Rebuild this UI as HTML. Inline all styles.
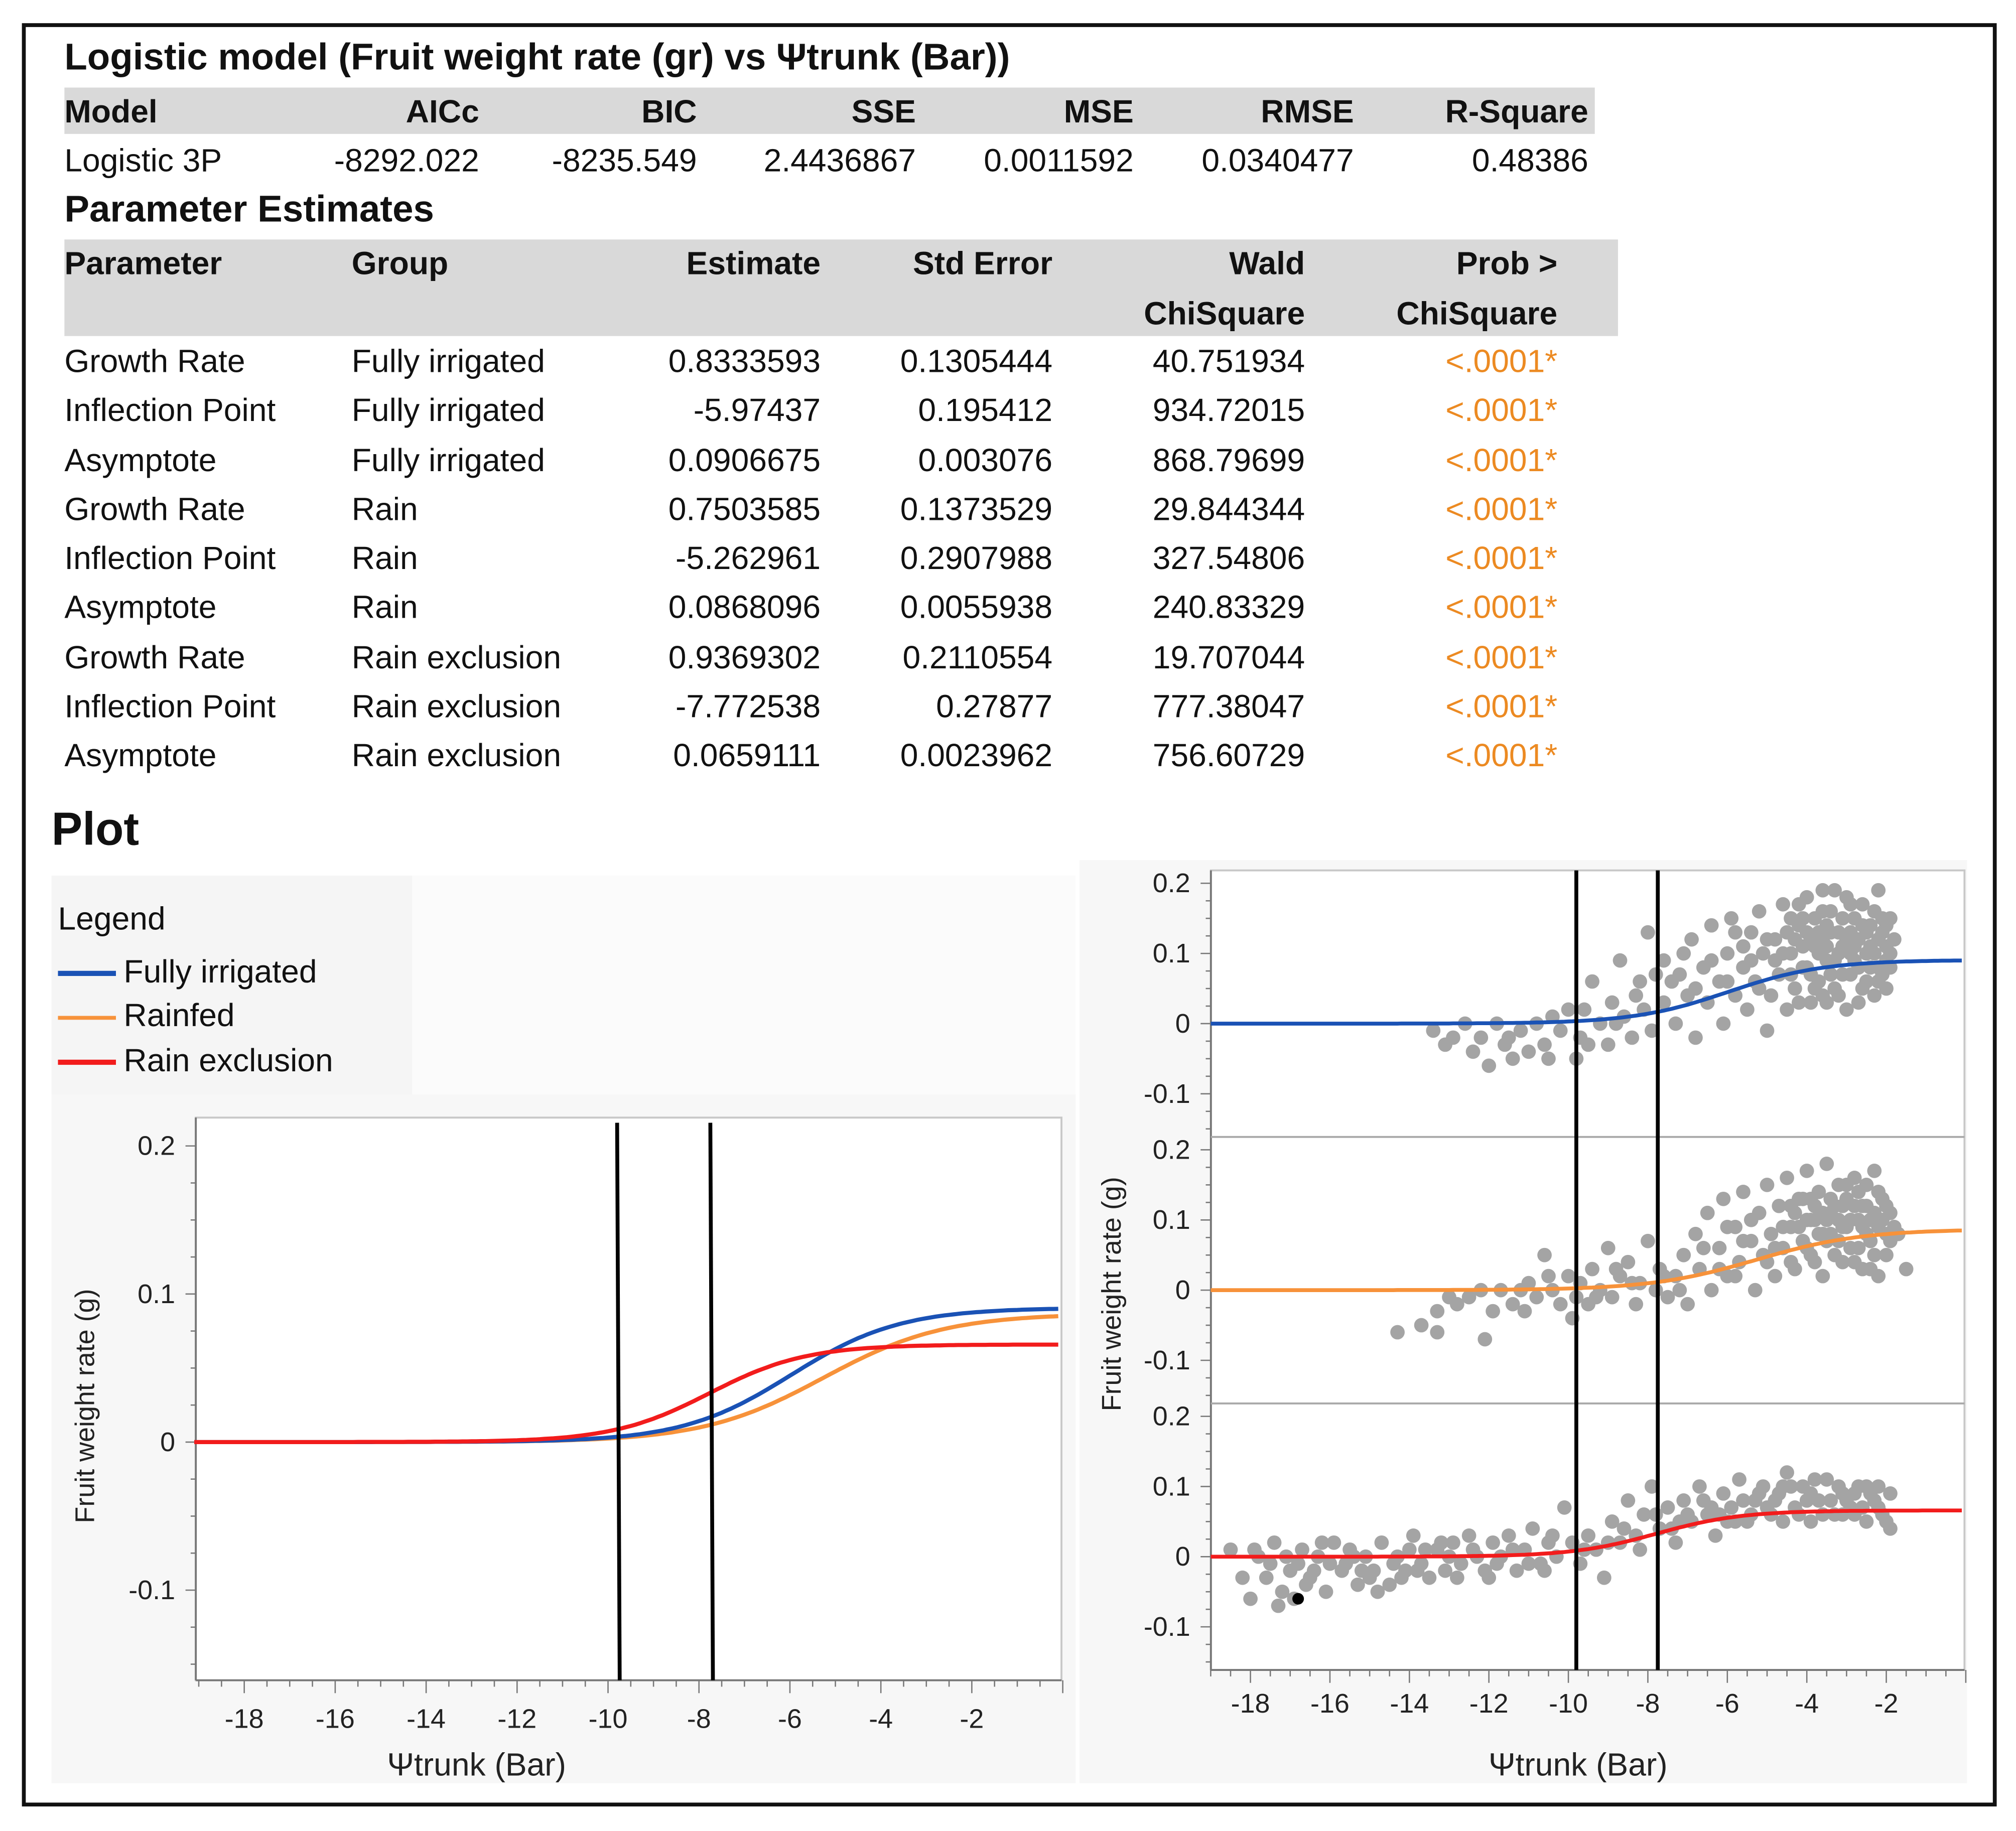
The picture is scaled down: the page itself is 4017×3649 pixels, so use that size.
<!DOCTYPE html>
<html><head><meta charset="utf-8">
<style>
html,body{margin:0;padding:0;background:#fff;}
body{width:4017px;height:3649px;overflow:hidden;}
#root{position:absolute;left:0;top:0;width:1565px;height:1422px;transform:scale(2.5668,2.566);transform-origin:0 0;font-family:"Liberation Sans",sans-serif;color:#111;}
.a{position:absolute;white-space:nowrap;line-height:1;}
.b{font-weight:bold;}
.h{font-size:25px;}
.t{font-size:25px;}
.o{color:#ec8a22;}
</style></head><body>
<div id="root">
<div class="a" style="left:17px;top:18px;width:1527px;height:1379px;border:3px solid #111;"></div>
<div class="a b" style="left:50px;top:31px;font-size:29px;">Logistic model (Fruit weight rate (gr) vs Ψtrunk (Bar))</div>
<div class="a" style="left:50px;top:68px;width:1188px;height:36px;background:#d9d9d9;"></div>
<div class="a b" style="left:50px;top:149px;font-size:29px;">Parameter Estimates</div>
<div class="a" style="left:50px;top:186px;width:1206px;height:75px;background:#d9d9d9;"></div>
<div class="a b" style="left:40px;top:626px;font-size:36px;">Plot</div>
<div class="a" style="left:40px;top:680px;width:280px;height:170px;background:#f5f5f5;"></div>
<div class="a" style="left:320px;top:680px;width:515px;height:170px;background:#fbfbfb;"></div>
<div class="a" style="left:40px;top:850px;width:795px;height:535px;background:#f7f7f7;"></div>
<div class="a" style="left:838px;top:668px;width:689px;height:717px;background:#f7f7f7;"></div>
<div class="a" style="left:45px;top:702px;font-size:25px;">Legend</div>
<div class="a" style="left:45px;top:743px;font-size:25px;"><span style="display:inline-block;width:45px;height:4px;background:#1a52b5;vertical-align:middle;margin-right:6px;"></span>Fully irrigated</div>
<div class="a" style="left:45px;top:777px;font-size:25px;"><span style="display:inline-block;width:45px;height:3px;background:#f7923a;vertical-align:middle;margin-right:6px;"></span>Rainfed</div>
<div class="a" style="left:45px;top:812px;font-size:25px;"><span style="display:inline-block;width:45px;height:4px;background:#f21c1c;vertical-align:middle;margin-right:6px;"></span>Rain exclusion</div>
<svg id="chart" class="a" style="left:0;top:0;" width="1565" height="1422" xmlns="http://www.w3.org/2000/svg"></svg>
</div>
<script>
const fitHeaders=['Model','AICc','BIC','SSE','MSE','RMSE','R-Square'];
const fitValues=['Logistic 3P','-8292.022','-8235.549','2.4436867','0.0011592','0.0340477','0.48386'];
const fitRight=[null,372,541,711,880,1051,1233];
const paramNames=['Growth Rate','Inflection Point','Asymptote','Growth Rate','Inflection Point','Asymptote','Growth Rate','Inflection Point','Asymptote'];
const paramGroups=['Fully irrigated','Fully irrigated','Fully irrigated','Rain','Rain','Rain','Rain exclusion','Rain exclusion','Rain exclusion'];
const estimates=['0.8333593','-5.97437','0.0906675','0.7503585','-5.262961','0.0868096','0.9369302','-7.772538','0.0659111'];
const stdErrors=['0.1305444','0.195412','0.003076','0.1373529','0.2907988','0.0055938','0.2110554','0.27877','0.0023962'];
const waldChi=['40.751934','934.72015','868.79699','29.844344','327.54806','240.83329','19.707044','777.38047','756.60729'];
const probChi=['<.0001*','<.0001*','<.0001*','<.0001*','<.0001*','<.0001*','<.0001*','<.0001*','<.0001*'];

function cell(parent,txt,x,y,right,cls,name){
  const d=document.createElement('div');
  
  
  d.className='a '+cls;d.textContent=txt;
  if(right){d.style.right=(1565-x)+'px';}else{d.style.left=x+'px';}
  d.style.top=(y-13)+'px';parent.appendChild(d);
}
const root=document.getElementById('root');
fitHeaders.forEach((h,i)=>cell(root,h,i?fitRight[i]:50,88,!!i,'b h','fit-header-'+h.toLowerCase()));
fitValues.forEach((v,i)=>cell(root,v,i?fitRight[i]:50,126,!!i,'t','fit-value-'+i));
cell(root,'Parameter',50,206,false,'b h','param-header-parameter');
cell(root,'Group',273,206,false,'b h','param-header-group');
cell(root,'Estimate',637,206,true,'b h','param-header-estimate');
cell(root,'Std Error',817,206,true,'b h','param-header-std-error');
cell(root,'Wald',1013,206,true,'b h','param-header-wald');
cell(root,'ChiSquare',1013,245,true,'b h','param-header-wald-chisquare');
cell(root,'Prob >',1209,206,true,'b h','param-header-prob');
cell(root,'ChiSquare',1209,245,true,'b h','param-header-prob-chisquare');
paramNames.forEach((p,i)=>{
  const y=282+i*38.25;
  cell(root,p,50,y,false,'t','param-name-'+i);
  cell(root,paramGroups[i],273,y,false,'t','param-group-'+i);
  cell(root,estimates[i],637,y,true,'t','param-estimate-'+i);
  cell(root,stdErrors[i],817,y,true,'t','param-std-error-'+i);
  cell(root,waldChi[i],1013,y,true,'t','param-wald-'+i);
  cell(root,probChi[i],1209,y,true,'t o','param-prob-'+i);
});
</script>
<script>
// chart data
const xTicks=[-18,-16,-14,-12,-10,-8,-6,-4,-2];
const yTicks=[0.2,0.1,0,-0.1];
const yTickLabels=['0.2','0.1','0','-0.1'];
const seriesNames=['Fully irrigated','Rainfed','Rain exclusion'];
const growthRate=[0.8333593,0.7503585,0.9369302];
const inflectionPoint=[-5.97437,-5.262961,-7.772538];
const asymptote=[0.0906675,0.0868096,0.0659111];
const refLines=[-9.8,-7.75];
const scatterFully=[[-13.4,-0.01],[-13.1,-0.03],[-12.9,-0.02],[-12.6,0.0],[-12.4,-0.04],[-12.2,-0.02],[-12.0,-0.06],[-11.8,0.0],[-11.6,-0.03],[-11.4,-0.05],[-11.2,-0.01],[-11.0,-0.04],[-10.8,0.0],[-10.6,-0.03],[-10.4,0.01],[-10.2,-0.01],[-10.0,0.02],[-9.8,-0.05],[-9.7,-0.02],[-9.6,0.02],[-9.4,0.06],[-9.2,0.0],[-9.0,-0.03],[-8.9,0.03],[-8.7,0.09],[-8.6,0.01],[-8.4,-0.02],[-8.3,0.04],[-8.1,0.02],[-8.0,0.13],[-7.9,-0.01],[-7.8,0.07],[-7.6,0.03],[-7.4,0.06],[-7.3,0.0],[-7.1,0.1],[-7.0,0.04],[-6.9,0.12],[-6.8,-0.02],[-6.6,0.08],[-6.5,0.03],[-6.4,0.14],[-6.2,0.06],[-6.1,0.0],[-6.0,0.1],[-5.9,0.15],[-5.8,0.04],[-5.6,0.08],[-5.5,0.02],[-5.4,0.13],[-5.3,0.06],[-5.2,0.16],[-5.1,0.1],[-5.0,-0.01],[-4.9,0.04],[-4.8,0.12],[-4.7,0.07],[-4.6,0.17],[-4.5,0.02],[-4.4,0.1],[-4.3,0.05],[-4.2,0.14],[-4.1,0.08],[-4.0,0.18],[-3.9,0.03],[-3.8,0.11],[-3.7,0.06],[-3.6,0.16],[-3.5,0.09],[-3.4,0.13],[-3.3,0.19],[-3.2,0.04],[-3.1,0.07],[-3.0,0.12],[-2.9,0.17],[-2.8,0.09],[-2.7,0.03],[-2.6,0.14],[-2.5,0.06],[-2.4,0.11],[-2.3,0.16],[-2.2,0.08],[-2.1,0.13],[-2.0,0.05],[-1.9,0.1],[-4.4,0.15],[-4.2,0.03],[-4.0,0.08],[-3.8,0.15],[-3.6,0.04],[-3.4,0.07],[-3.2,0.1],[-3.0,0.02],[-2.8,0.15],[-2.6,0.05],[-2.4,0.08],[-2.2,0.12],[-2.0,0.09],[-3.9,0.12],[-3.5,0.11],[-3.1,0.15],[-2.7,0.12],[-2.3,0.04],[-2.1,0.15],[-4.5,0.13],[-4.1,0.11],[-3.7,0.13],[-3.3,0.09],[-2.9,0.07],[-2.5,0.1],[-1.8,0.12],[-2.0,0.14],[-3.0,0.18],[-3.6,0.19],[-2.2,0.19],[-4.3,0.12],[-4.1,0.15],[-3.9,0.07],[-3.7,0.1],[-3.5,0.14],[-3.3,0.05],[-3.1,0.11],[-2.9,0.13],[-2.7,0.08],[-2.5,0.13],[-2.3,0.1],[-2.1,0.07],[-1.9,0.15],[-2.0,0.11],[-2.4,0.14],[-2.8,0.11],[-3.2,0.13],[-3.6,0.12],[-4.0,0.13],[-4.4,0.07],[-4.8,0.09],[-5.2,0.05],[-5.6,0.11],[-6.0,0.06],[-6.4,0.09],[-6.8,0.05],[-7.2,0.07],[-7.6,0.09],[-8.2,0.06],[-8.8,0.0],[-9.5,-0.03],[-10.5,-0.05],[-11.5,-0.02],[-2.6,0.17],[-3.4,0.16],[-4.2,0.17],[-2.9,0.1],[-3.8,0.05],[-2.2,0.06],[-1.9,0.08],[-3.5,0.03],[-4.6,0.1],[-5.0,0.12],[-5.4,0.09],[-5.8,0.13]];
const scatterRain=[[-14.3,-0.06],[-13.7,-0.05],[-13.3,-0.06],[-13.3,-0.03],[-13.0,-0.01],[-12.8,-0.02],[-12.5,-0.01],[-12.2,0.0],[-12.1,-0.07],[-11.9,-0.03],[-11.7,0.0],[-11.4,-0.02],[-11.2,0.0],[-11.0,0.01],[-10.8,-0.01],[-10.6,0.05],[-10.4,0.0],[-10.2,-0.02],[-10.0,0.02],[-9.9,-0.04],[-9.7,0.01],[-9.5,-0.02],[-9.4,0.03],[-9.2,0.0],[-9.0,0.06],[-8.9,-0.01],[-8.7,0.02],[-8.5,0.04],[-8.3,-0.02],[-8.2,0.01],[-8.0,0.07],[-7.8,0.0],[-7.7,0.03],[-7.5,-0.01],[-7.3,0.02],[-7.1,0.05],[-7.0,-0.02],[-6.8,0.08],[-6.7,0.03],[-6.5,0.11],[-6.4,0.0],[-6.2,0.06],[-6.1,0.13],[-6.0,0.02],[-5.8,0.09],[-5.7,0.04],[-5.6,0.14],[-5.4,0.07],[-5.3,0.0],[-5.2,0.11],[-5.1,0.05],[-5.0,0.15],[-4.9,0.08],[-4.8,0.02],[-4.7,0.12],[-4.6,0.06],[-4.5,0.16],[-4.4,0.09],[-4.3,0.03],[-4.2,0.13],[-4.1,0.07],[-4.0,0.17],[-3.9,0.1],[-3.8,0.04],[-3.7,0.14],[-3.6,0.08],[-3.5,0.18],[-3.4,0.11],[-3.3,0.05],[-3.2,0.15],[-3.1,0.09],[-3.0,0.13],[-2.9,0.06],[-2.8,0.16],[-2.7,0.1],[-2.6,0.03],[-2.5,0.12],[-2.4,0.07],[-2.3,0.17],[-2.2,0.09],[-2.1,0.13],[-2.0,0.05],[-1.9,0.11],[-1.7,0.08],[-1.5,0.03],[-4.4,0.04],[-4.0,0.06],[-3.6,0.02],[-3.2,0.07],[-2.8,0.04],[-2.4,0.1],[-2.2,0.14],[-3.8,0.1],[-3.4,0.13],[-3.0,0.09],[-2.6,0.12],[-4.2,0.09],[-2.0,0.08],[-3.1,0.12],[-2.7,0.14],[-3.5,0.07],[-2.3,0.05],[-3.9,0.13],[-2.5,0.15],[-4.3,0.11],[-4.1,0.13],[-3.9,0.05],[-3.7,0.08],[-3.5,0.1],[-3.3,0.12],[-3.1,0.04],[-2.9,0.1],[-2.7,0.06],[-2.5,0.08],[-2.3,0.11],[-2.1,0.1],[-1.9,0.07],[-2.0,0.12],[-2.4,0.03],[-2.8,0.12],[-3.2,0.1],[-3.6,0.11],[-4.0,0.1],[-4.6,0.09],[-5.0,0.04],[-5.4,0.1],[-5.8,0.02],[-6.2,0.03],[-6.6,0.06],[-7.2,0.0],[-7.6,0.02],[-8.4,0.01],[-8.8,0.03],[-9.3,-0.01],[-9.8,-0.01],[-10.5,0.02],[-11.1,-0.03],[-3.0,0.15],[-2.6,0.09],[-3.8,0.12],[-4.4,0.12],[-4.8,0.06],[-5.6,0.07],[-6.0,0.09],[-2.2,0.02],[-1.8,0.09],[-3.4,0.08]];
const scatterExcl=[[-18.5,0.01],[-18.0,-0.06],[-17.8,0.0],[-17.6,-0.03],[-17.4,0.02],[-17.2,-0.05],[-17.0,-0.02],[-16.9,-0.06],[-16.7,0.01],[-16.5,-0.03],[-16.3,0.0],[-16.1,-0.05],[-15.9,0.02],[-15.7,-0.02],[-15.5,0.01],[-15.3,-0.04],[-15.1,0.0],[-14.9,-0.02],[-14.7,0.02],[-14.5,-0.04],[-14.3,0.0],[-14.1,-0.02],[-13.9,0.03],[-13.7,-0.01],[-13.5,-0.03],[-13.3,0.01],[-13.1,-0.02],[-12.9,0.02],[-12.7,-0.01],[-12.5,0.03],[-12.3,0.0],[-12.1,-0.02],[-11.9,0.02],[-11.7,0.0],[-11.5,0.03],[-11.3,-0.02],[-11.1,0.01],[-10.9,0.04],[-10.7,-0.01],[-10.5,0.02],[-10.3,0.0],[-10.1,0.07],[-9.9,0.02],[-9.7,-0.01],[-9.5,0.03],[-9.3,0.01],[-9.1,-0.03],[-8.9,0.05],[-8.7,0.02],[-8.5,0.08],[-8.3,0.03],[-8.1,0.06],[-7.9,0.1],[-7.7,0.04],[-7.5,0.07],[-7.3,0.02],[-7.1,0.08],[-6.9,0.05],[-6.7,0.1],[-6.5,0.06],[-6.3,0.03],[-6.1,0.09],[-5.9,0.07],[-5.7,0.11],[-5.5,0.05],[-5.3,0.08],[-5.1,0.1],[-4.9,0.06],[-4.7,0.09],[-4.5,0.12],[-4.3,0.07],[-4.1,0.1],[-3.9,0.05],[-3.7,0.08],[-3.5,0.11],[-3.3,0.06],[-3.1,0.09],[-2.9,0.07],[-2.7,0.1],[-2.5,0.05],[-2.3,0.08],[-2.1,0.06],[-1.9,0.04],[-1.9,0.09],[-17.3,-0.07],[-16.2,0.02],[-15.0,-0.03],[-14.0,0.01],[-13.0,0.0],[-12.0,-0.03],[-16.8,-0.01],[-15.6,-0.01],[-14.4,-0.01],[-13.2,0.02],[-11.4,0.01],[-10.6,-0.02],[-5.0,0.07],[-4.6,0.05],[-4.0,0.08],[-3.6,0.06],[-3.0,0.08],[-2.6,0.07],[-2.2,0.1],[-4.4,0.1],[-3.8,0.11],[-3.2,0.1],[-2.8,0.06],[-2.4,0.09],[-6.0,0.05],[-5.6,0.08],[-6.6,0.08],[-7.2,0.05],[-17.9,0.01],[-17.5,-0.01],[-17.1,0.0],[-16.6,-0.04],[-16.0,-0.01],[-15.4,0.0],[-14.8,-0.05],[-14.2,-0.03],[-13.6,0.01],[-12.8,-0.03],[-12.4,0.01],[-11.8,-0.01],[-11.0,-0.01],[-10.4,0.03],[-9.6,0.01],[-9.0,0.02],[-8.6,0.04],[-8.2,0.01],[-7.8,0.06],[-7.4,0.04],[-7.0,0.06],[-6.4,0.07],[-5.8,0.05],[-5.4,0.06],[-4.8,0.08],[-4.2,0.06],[-3.4,0.08],[-2.8,0.09],[-2.2,0.07],[-2.0,0.05],[-4.6,0.1],[-3.9,0.09],[-3.1,0.06],[-2.5,0.1],[-5.2,0.09],[-6.2,0.06],[-18.2,-0.03],[-16.4,-0.02],[-15.2,-0.02],[-13.8,-0.02]];
const scatters=[scatterFully,scatterRain,scatterExcl];
const lineColors=['#1a52b5','#f7923a','#f21c1c'];

const NS='http://www.w3.org/2000/svg';
const svg=document.getElementById('chart');
function mk(tag,attrs,parent){const e=document.createElementNS(NS,tag);for(const k in attrs)e.setAttribute(k,attrs[k]);(parent||svg).appendChild(e);return e;}
function logistic(i,x){return asymptote[i]/(1+Math.exp(-growthRate[i]*(x-inflectionPoint[i])));}

// ---- left chart ----
const L={x0:152,x1:824,y0:868,y1:1305};
const lx=v=>825+v*35.3;
const ly=v=>1120-v*1150;
const lf=mk('rect',{x:L.x0,y:L.y0,width:L.x1-L.x0,height:L.y1-L.y0,fill:'#fff',stroke:'#c8c8c8','stroke-width':1.5});


mk('line',{x1:L.x0,y1:L.y0,x2:L.x0,y2:L.y1,stroke:'#777','stroke-width':1.5});
mk('line',{x1:L.x0,y1:L.y1,x2:L.x1,y2:L.y1,stroke:'#777','stroke-width':1.5});
for(let v=-19;v<=0;v+=0.5){mk('line',{x1:lx(v),y1:L.y1,x2:lx(v),y2:L.y1+(Number.isInteger(v/2)?10:5),stroke:'#777','stroke-width':1});}
for(let v=-0.15;v<=0.2001;v+=0.025){mk('line',{x1:L.x0,y1:ly(v),x2:L.x0-(Math.abs(v*10-Math.round(v*10))<1e-6?8:4),y2:ly(v),stroke:'#777','stroke-width':1});}
xTicks.forEach(t=>{const e=mk('text',{x:lx(t),y:1342,'text-anchor':'middle','font-size':21,fill:'#222','font-family':'Liberation Sans, sans-serif'});e.textContent=t;

});
yTicks.forEach((t,i)=>{const e=mk('text',{x:136,y:ly(t)+7,'text-anchor':'end','font-size':21,fill:'#222','font-family':'Liberation Sans, sans-serif'});e.textContent=yTickLabels[i];

});
let e1=mk('text',{x:370,y:1379,'text-anchor':'middle','font-size':25,fill:'#222','font-family':'Liberation Sans, sans-serif'});e1.textContent='Ψtrunk (Bar)';


let e2=mk('text',{x:0,y:0,'text-anchor':'middle','font-size':21,fill:'#222','font-family':'Liberation Sans, sans-serif',transform:'translate(73,1092) rotate(-90)'});e2.textContent='Fruit weight rate (g)';


[1,0,2].forEach(i=>{let d='';for(let x=-19.1;x<=0;x+=0.1){d+=(d?'L':'M')+lx(x).toFixed(1)+','+ly(logistic(i,x)).toFixed(1);}
const p=mk('path',{d:d,fill:'none',stroke:lineColors[i],'stroke-width':3.2});

});
refLines.forEach(r=>{const l=mk('line',{x1:lx(r),y1:872,x2:lx(r)+2,y2:L.y1,stroke:'#000','stroke-width':3});

});

// ---- right chart ----
const R={x0:940,x1:1525,top:676,ph:207};
const rx=v=>1526+v*30.85;
const zeroY=[795,1002,1209];
const ry=(p,v)=>zeroY[p]-v*545;
const rf=mk('rect',{x:R.x0,y:R.top,width:R.x1-R.x0,height:3*R.ph,fill:'#fff',stroke:'#c8c8c8','stroke-width':1.5});


mk('line',{x1:R.x0,y1:R.top,x2:R.x0,y2:R.top+3*R.ph,stroke:'#777','stroke-width':1.5});
mk('line',{x1:R.x0,y1:R.top+3*R.ph,x2:R.x1,y2:R.top+3*R.ph,stroke:'#777','stroke-width':1.5});
for(let p=1;p<3;p++){mk('line',{x1:R.x0,y1:R.top+p*R.ph,x2:R.x1,y2:R.top+p*R.ph,stroke:'#aaa','stroke-width':1.5});}
for(let v=-19;v<=0;v+=0.5){mk('line',{x1:rx(v),y1:R.top+3*R.ph,x2:rx(v),y2:R.top+3*R.ph+(Number.isInteger(v/2)?10:5),stroke:'#777','stroke-width':1});}
xTicks.forEach(t=>{const e=mk('text',{x:rx(t),y:1330,'text-anchor':'middle','font-size':21,fill:'#222','font-family':'Liberation Sans, sans-serif'});e.textContent=t;

});
for(let p=0;p<3;p++){
  for(let v=-0.15;v<=0.2101;v+=0.025){const y=ry(p,v);if(y<R.top+p*R.ph||y>R.top+(p+1)*R.ph)continue;mk('line',{x1:R.x0,y1:y,x2:R.x0-(Math.abs(v*10-Math.round(v*10))<1e-6?8:4),y2:y,stroke:'#777','stroke-width':1});}
  yTicks.forEach((t,i)=>{const e=mk('text',{x:924,y:ry(p,t)+7,'text-anchor':'end','font-size':21,fill:'#222','font-family':'Liberation Sans, sans-serif'});e.textContent=yTickLabels[i];
  
  });
  const g=mk('g',{fill:'#a4a4a4'});
  
  
  scatters[p].forEach(pt=>{mk('circle',{cx:rx(pt[0]),cy:ry(p,pt[1]),r:5.6},g);});
  let d='';for(let x=-19;x<=0;x+=0.1){d+=(d?'L':'M')+rx(x).toFixed(1)+','+ry(p,logistic(p,x)).toFixed(1);}
  const c=mk('path',{d:d,fill:'none',stroke:lineColors[p],'stroke-width':3});
  
  
}
mk('circle',{cx:rx(-16.8),cy:ry(2,-0.06),r:4.5,fill:'#000'});
refLines.forEach(r=>{const l=mk('line',{x1:rx(r),y1:R.top,x2:rx(r),y2:R.top+3*R.ph,stroke:'#000','stroke-width':3});

});
let e3=mk('text',{x:1225,y:1379,'text-anchor':'middle','font-size':25,fill:'#222','font-family':'Liberation Sans, sans-serif'});e3.textContent='Ψtrunk (Bar)';


let e4=mk('text',{x:0,y:0,'text-anchor':'middle','font-size':21,fill:'#222','font-family':'Liberation Sans, sans-serif',transform:'translate(870,1005) rotate(-90)'});e4.textContent='Fruit weight rate (g)';


</script>
</body></html>
